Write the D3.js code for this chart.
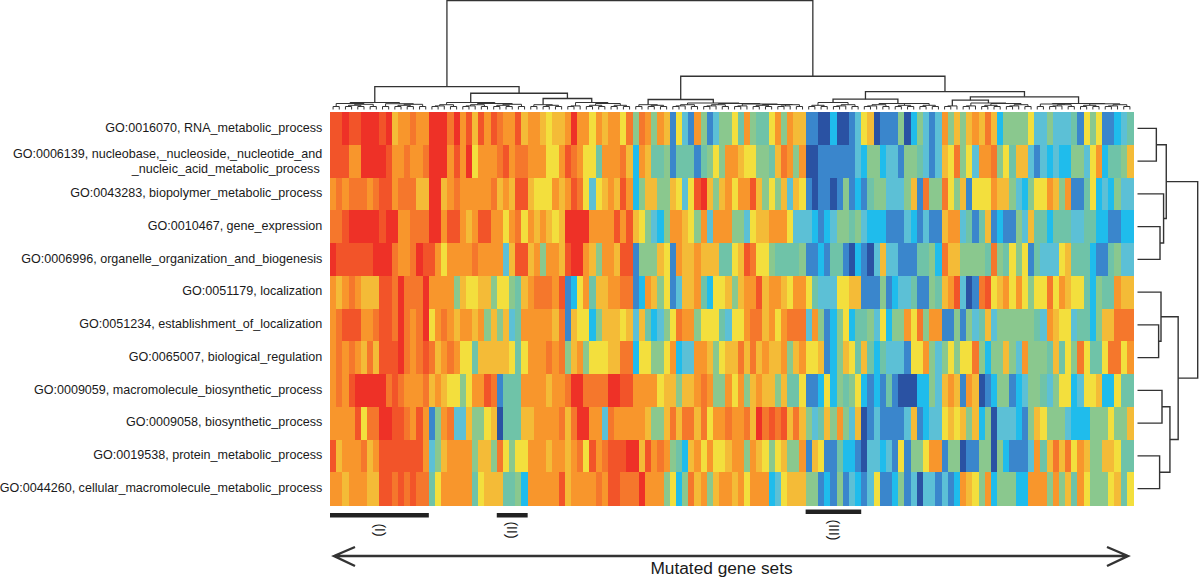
<!DOCTYPE html>
<html><head><meta charset="utf-8">
<script src="https://cdn.jsdelivr.net/npm/d3@7"></script>
<style>html,body{margin:0;padding:0;background:#fff}svg{display:block}text{font-family:"Liberation Sans",Arial,sans-serif;fill:#1a1a1a}</style>
</head><body><svg id="c" width="1200" height="579"></svg>
<script>
const rowLabels=[["GO:0016070, RNA_metabolic_process"],["GO:0006139, nucleobase,_nucleoside,_nucleotide_and","_nucleic_acid_metabolic_process"],["GO:0043283, biopolymer_metabolic_process"],["GO:0010467, gene_expression"],["GO:0006996, organelle_organization_and_biogenesis"],["GO:0051179, localization"],["GO:0051234, establishment_of_localization"],["GO:0065007, biological_regulation"],["GO:0009059, macromolecule_biosynthetic_process"],["GO:0009058, biosynthetic_process"],["GO:0019538, protein_metabolic_process"],["GO:0044260, cellular_macromolecule_metabolic_process"]];
const levelColors=["#2a52a3","#3a86cc","#1fbcec","#5cc0d6","#6fc3a8","#8ac88e","#f3df3d","#f4bb37","#f8962c","#f5772c","#f25429","#ee3127"];
const r01=[10,10,11,10,10,11,11,11,10,11,7,8,8,9,8,8,11,11,11,9,11,8,10,7,10,8,10,9,8,8,10,7,8,8,7,6,7,7,8,11,8,8,6,8,7,8,8,6,9,5,9,8,5,8,7,1,6,3,1,8,5,1,3,5,5,6,4,8,5,4,4,6,8,5,8,7,7,1,1,0,0,2,0,0,1,3,6,7,0,1,1,1,5,0,2,5,3,1,3,8,5,7,5,7,8,7,9,7,2,5,5,5,5,6,3,3,5,3,3,3,4,1,6,5,6,1,1,2,3,4];
const r02=[10,10,10,8,8,11,11,11,11,10,8,8,9,8,8,9,11,11,11,8,10,8,11,6,8,8,8,9,10,8,9,9,8,8,8,6,6,8,10,9,8,6,6,4,8,8,8,9,7,2,8,7,4,4,5,1,4,4,4,1,4,5,6,5,8,8,7,6,6,5,5,4,7,9,8,5,8,0,0,1,1,1,1,1,1,3,2,5,5,2,3,3,1,5,5,4,3,1,3,7,6,9,5,6,3,8,8,9,5,6,4,7,7,3,1,3,2,3,2,2,5,5,3,6,8,2,4,4,5,7];
const r03=[8,9,8,9,9,9,8,9,10,10,8,9,9,9,7,7,11,11,7,8,9,8,8,8,8,8,9,7,8,7,10,10,7,6,6,6,8,7,8,10,9,6,3,6,7,8,7,10,8,2,5,7,7,5,5,7,6,3,6,10,11,7,5,7,8,6,8,8,10,7,5,6,5,7,3,7,6,1,0,1,1,0,1,5,1,2,1,4,5,5,3,3,3,5,7,1,9,5,5,9,6,5,7,1,6,6,6,8,7,7,5,3,2,5,6,6,8,7,5,8,1,1,4,6,2,3,2,5,3,3];
const r04=[9,9,10,11,11,11,11,11,10,11,11,8,8,9,9,9,11,11,8,10,10,8,7,8,10,10,8,8,6,8,9,6,8,7,8,7,6,7,11,11,11,11,8,8,8,8,10,8,10,7,6,5,3,2,5,8,8,7,6,5,8,3,8,8,8,5,5,3,6,7,7,8,8,8,6,3,3,3,2,1,2,3,5,5,4,5,3,2,2,2,1,1,1,3,2,1,3,1,1,7,8,8,3,4,1,4,7,1,2,1,1,5,3,7,4,4,2,4,4,4,3,3,4,4,2,2,1,1,2,2];
const r05=[11,10,10,10,10,10,10,11,11,11,9,8,8,9,11,10,10,8,6,8,8,8,8,9,8,8,8,8,3,7,10,10,7,8,5,8,8,7,10,11,11,8,7,5,8,8,7,10,10,1,5,5,5,7,6,1,8,7,7,8,7,7,7,4,4,6,7,10,9,6,6,5,4,4,4,4,5,1,1,2,1,4,4,1,0,2,1,0,3,7,3,3,1,1,1,4,4,5,2,9,7,7,5,5,5,5,4,9,5,4,6,5,6,1,4,3,3,3,6,7,4,4,4,2,1,1,4,5,3,3];
const r06=[8,7,8,9,8,7,7,7,10,10,9,11,9,9,9,11,8,8,8,8,5,7,6,6,7,7,5,6,6,5,4,7,8,9,9,9,8,10,1,2,6,8,4,7,7,8,8,9,9,1,2,8,7,5,6,1,3,7,7,8,4,2,6,6,7,5,7,8,8,10,7,8,8,7,6,8,8,6,4,3,3,3,6,6,7,7,1,1,1,5,1,2,3,3,4,1,1,5,4,7,8,10,3,0,1,9,10,6,7,8,6,8,6,5,6,6,9,6,8,7,6,6,4,2,5,4,4,8,7,7];
const r07=[8,9,10,10,10,8,8,9,10,10,9,11,9,8,9,11,6,8,9,8,7,8,8,7,8,5,7,5,7,3,4,8,8,8,8,8,7,9,1,7,6,6,2,5,7,7,7,6,7,3,7,4,2,3,5,6,9,8,8,5,6,6,6,4,3,6,6,8,9,9,7,8,6,8,9,9,9,3,8,5,1,2,5,6,2,4,4,5,3,6,2,5,5,8,6,9,5,8,8,1,1,5,1,5,3,4,7,3,5,5,5,5,5,5,4,3,8,7,6,6,3,4,4,2,5,7,7,9,9,9];
const r08=[8,9,8,9,8,7,9,7,10,10,10,11,9,8,9,10,9,7,8,9,8,6,6,4,7,7,7,7,7,6,4,6,8,8,8,9,8,9,5,7,8,5,6,6,6,7,7,9,9,2,6,6,5,5,6,8,2,3,3,8,8,7,5,6,7,7,9,7,9,7,8,7,7,8,5,7,8,6,6,7,1,2,5,7,6,4,7,4,2,4,3,3,3,1,6,6,8,5,3,5,6,5,6,6,9,5,2,5,5,7,5,3,8,5,5,5,4,7,4,6,5,9,6,4,4,6,9,9,6,8];
const r09=[8,9,8,10,11,11,11,11,11,9,10,9,8,8,8,9,7,8,7,6,6,5,6,8,8,10,9,1,4,4,4,8,8,8,8,7,8,8,9,11,11,9,9,9,9,11,11,10,10,8,8,8,8,6,7,7,5,7,7,8,9,8,5,5,8,6,8,5,7,8,7,7,5,7,4,4,6,1,1,2,6,2,5,4,5,6,2,1,2,1,4,1,0,0,0,2,2,5,3,7,8,7,1,8,7,0,1,2,5,5,1,2,3,5,5,4,3,5,6,6,2,3,6,6,7,2,2,6,4,4];
const r10=[8,8,8,8,10,6,9,9,11,11,10,10,9,8,10,8,1,5,8,9,3,3,7,5,5,6,7,0,4,4,4,7,7,8,8,8,8,9,7,9,11,11,8,8,3,9,8,8,8,8,8,7,5,5,7,9,7,9,9,7,9,6,8,8,9,8,8,9,7,11,9,10,9,10,7,9,7,5,3,4,7,5,8,5,3,7,0,1,3,1,1,1,1,3,7,1,2,3,3,6,7,6,7,5,7,2,5,0,3,3,3,2,1,5,7,6,5,5,5,3,2,2,2,5,5,5,6,5,5,7];
const r11=[10,7,8,8,8,9,7,8,10,10,10,10,10,10,10,8,3,5,7,8,8,8,8,5,7,7,5,9,6,5,6,6,8,8,8,7,8,8,7,8,9,6,10,8,9,10,10,10,11,11,7,10,8,9,8,5,4,2,7,8,6,8,6,6,7,8,8,5,8,7,6,5,6,7,5,5,8,1,7,6,1,1,4,2,2,1,0,3,3,2,3,1,6,1,5,5,6,8,8,1,5,5,0,1,1,5,5,0,5,2,1,1,1,3,8,4,7,9,7,9,6,8,7,5,5,7,7,6,4,4];
const r12=[8,8,7,8,8,8,7,7,10,10,9,10,9,10,9,9,4,6,8,8,8,8,8,4,6,7,7,7,4,4,5,2,8,8,8,8,8,10,7,8,8,8,8,9,8,10,10,9,9,9,11,8,8,8,5,6,2,5,9,7,8,5,7,8,8,7,8,6,8,8,8,2,3,6,7,7,7,5,5,1,2,1,5,1,3,2,1,3,6,1,1,2,5,1,3,0,3,3,1,3,1,2,8,7,6,5,8,2,5,5,5,2,2,8,8,8,5,8,5,7,4,8,6,5,5,5,6,7,4,6];
const matrix=[r01,r02,r03,r04,r05,r06,r07,r08,r09,r10,r11,r12];

// dendrogram nodes: [merge height, child, child]; 0 is a leaf
const L2=[3,0,0],L3=[3.6,L2,0],L4=[4.2,L2,L2],L5=[4.8,L3,L2],L6=[5.2,L4,L2],L8=[6,L4,L4];
const branchA=[7,[6,L2,L6],[5.8,L2,L6]];
const branchB=[16.3,[7,L5,[6,L5,L6]],[11,[4.8,L2,L4],[7,L3,L8]]];
const branchC=[10,[4.8,L2,L4],[6.5,L5,[6,L5,[5.5,L3,[5,L4,L5]]]]];
const branchD=[10.3,[7,L4,L5],[6,L5,L8]];
const branchE=[12.7,[9.3,L3,[6.5,L3,[6,L4,L5]]],[6,[5.5,L2,L5],[5.7,L4,L5]]];
const colTree=[109,[23,branchA,branchB],[33.3,branchC,[18,branchD,branchE]]];
const rowTree=[60.7,[29,[19,0,0],[26.3,0,[22.7,0,0]]],[41,[23.7,0,[21.3,0,0]],[32.7,[24.7,0,0],[22.3,0,0]]]];

const regions=[{label:"(I)",first:0,last:15},{label:"(II)",first:27,last:31},{label:"(III)",first:77,last:85}];
const regionBarY=[513,513,509.5];
const axisLabel="Mutated gene sets";

const svg=d3.select("#c");
const x=d3.scaleBand().domain(d3.range(130)).range([330,1133]);
const y=d3.scaleBand().domain(d3.range(12)).range([112,505]);
const color=d3.scaleOrdinal().domain(d3.range(12)).range(levelColors);

svg.append("g").attr("shape-rendering","crispEdges").selectAll("g").data(matrix).join("g")
 .attr("transform",(d,i)=>`translate(0,${y(i)})`)
 .selectAll("rect").data(d=>d).join("rect")
 .attr("x",(d,i)=>x(i)).attr("width",x.bandwidth()+0.5).attr("height",y.bandwidth()+0.5).attr("fill",d=>color(d));

function dendro(tree,leafPos,pt,width){
 const root=d3.hierarchy(tree,d=>Array.isArray(d)?d.slice(1):null);
 root.leaves().forEach((n,i)=>n.pos=leafPos(i));
 root.eachAfter(n=>{if(n.children){n.pos=d3.mean(n.children,c=>c.pos);}n.h=n.children?n.data[0]:0;});
 const g=svg.append("g").attr("fill","none").attr("stroke","#333");
 root.each(n=>{
  if(!n.children)return;
  const p=d3.path(),[a,b]=n.children;
  p.moveTo(...pt(a.pos,a.h));p.lineTo(...pt(a.pos,n.h));p.lineTo(...pt(b.pos,n.h));p.lineTo(...pt(b.pos,b.h));
  g.append("path").attr("d",p.toString()).attr("stroke-width",n.h>8?width:1);
 });
}
const hTop=d3.scaleLinear().domain([0,109]).range([109.5,0.7]);
dendro(colTree,i=>x(i)+x.bandwidth()/2,(p,h)=>[p,hTop(h)],1.3);
const hSide=d3.scaleLinear().domain([0,60.7]).range([1137.5,1197.7]);
dendro(rowTree,i=>y(i)+y.bandwidth()/2,(p,h)=>[hSide(h),p],1.4);

const lab=svg.append("g").attr("text-anchor","end").attr("font-size",12.57);
rowLabels.forEach((l,i)=>{
 const c=y(i)+y.bandwidth()/2;
 l.forEach((s,k)=>lab.append("text").attr("x",k?319.7:322.3).attr("y",l.length>1?c+4.4+(k-.5)*15.4:c+3.2).text(s));
});

regions.forEach((r,i)=>{
 const x0=x(r.first),x1=x(r.last)+x.bandwidth();
 svg.append("rect").attr("x",x0).attr("y",regionBarY[i]).attr("width",x1-x0).attr("height",4.5).attr("fill","#222");
 svg.append("text").attr("transform",`translate(${(x0+x1)/2},530) rotate(90)`).attr("text-anchor","middle").attr("dy","0.35em").attr("font-size",14).text(r.label);
});

const ax=d3.path();
ax.moveTo(334,556);ax.lineTo(1128,556);
ax.moveTo(355,547);ax.lineTo(334,556);ax.lineTo(355,566);
ax.moveTo(1107,547);ax.lineTo(1128,556);ax.lineTo(1107,566);
svg.append("path").attr("d",ax.toString()).attr("fill","none").attr("stroke","#333").attr("stroke-width",2.4);
svg.append("text").attr("x",721.5).attr("y",574).attr("text-anchor","middle").attr("font-size",17.3).text(axisLabel);
</script></body></html>
